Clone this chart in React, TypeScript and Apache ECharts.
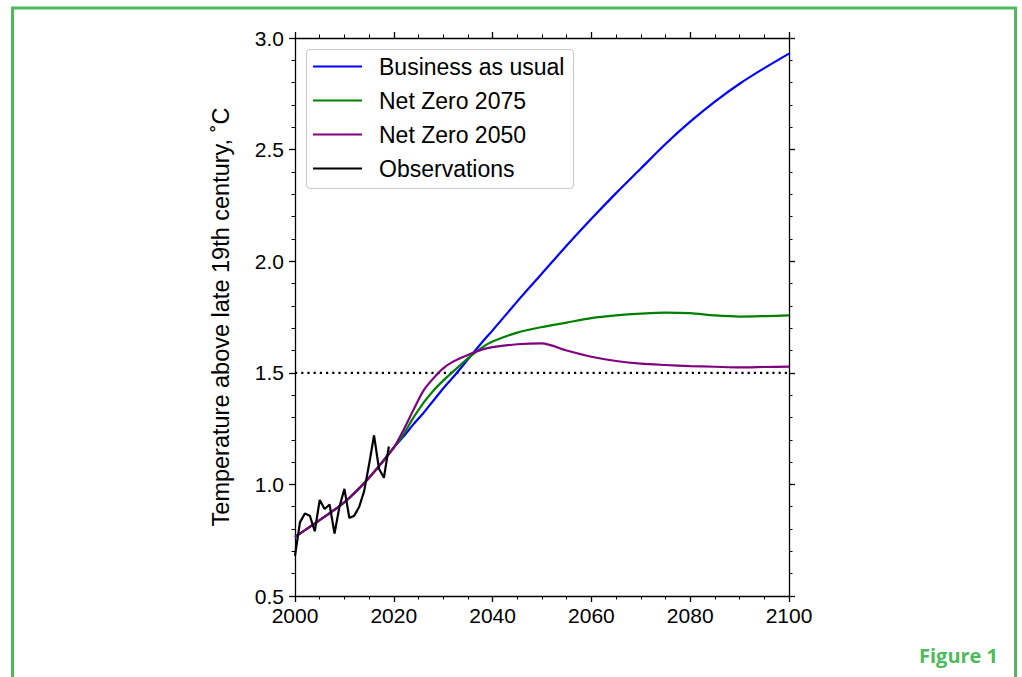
import React, { useEffect, useRef } from "react";
import * as echarts from "echarts";

const scenarioYears = [2000, 2005, 2010, 2015, 2020, 2022, 2024, 2026, 2028, 2030, 2032, 2035, 2038, 2040, 2045, 2050, 2055, 2060, 2065, 2070, 2075, 2080, 2085, 2090, 2095, 2100];
const businessAsUsual = [0.765, 0.84, 0.92, 1.03, 1.165, 1.215, 1.27, 1.32, 1.375, 1.43, 1.48, 1.56, 1.64, 1.69, 1.82, 1.945, 2.07, 2.19, 2.305, 2.415, 2.525, 2.625, 2.715, 2.795, 2.865, 2.93];
const netZero2075 = [0.765, 0.84, 0.92, 1.03, 1.165, 1.225, 1.30, 1.365, 1.42, 1.465, 1.505, 1.565, 1.615, 1.64, 1.68, 1.705, 1.725, 1.745, 1.757, 1.765, 1.77, 1.767, 1.757, 1.752, 1.754, 1.757];
const netZero2050 = [0.765, 0.84, 0.92, 1.03, 1.165, 1.245, 1.335, 1.42, 1.475, 1.52, 1.55, 1.58, 1.605, 1.615, 1.628, 1.632, 1.60, 1.572, 1.553, 1.541, 1.535, 1.53, 1.527, 1.524, 1.526, 1.528];

const obsYears = [2000, 2001, 2002, 2003, 2004, 2005, 2006, 2007, 2008, 2009, 2010, 2011, 2012, 2013, 2014, 2015, 2016, 2017, 2018, 2019];
const observations = [0.68, 0.83, 0.87, 0.86, 0.79, 0.93, 0.89, 0.91, 0.78, 0.90, 0.98, 0.85, 0.86, 0.90, 0.97, 1.09, 1.22, 1.07, 1.03, 1.17];

const thresholdYears = [2000, 2100];
const thresholdValues = [1.5, 1.5];

const xTicks = { min: 2000, max: 2100, interval: 20 };
const yTicks = { min: 0.5, max: 3.0, interval: 0.5 };

const seriesNames = ["Business as usual", "Net Zero 2075", "Net Zero 2050", "Observations"];
const yTitle = "Temperature above late 19th century, ˚C";
const figureLabel = "Figure 1";

const zip = (xs: number[], ys: number[]) => xs.map((x, i) => [x, ys[i]]);

const FONT = "Liberation Sans, Arial, sans-serif";
const GREEN = "#4dbb5b";

export default function App() {
  const ref = useRef<HTMLDivElement>(null);
  useEffect(() => {
    document.body.style.margin = "0";
    const chart = echarts.init(ref.current!, undefined, { renderer: "svg" });
    const axisCommon = {
      axisLine: { show: true, lineStyle: { color: "#000", width: 1.3 } },
      axisTick: { show: true, inside: false, length: 6, lineStyle: { color: "#000", width: 1.3 } },
      minorTick: { show: true, length: 3.5, lineStyle: { color: "#000", width: 1 } },
      splitLine: { show: false },
      minorSplitLine: { show: false },
    };
    const xLabel = { fontSize: 21, color: "#000", fontFamily: FONT, margin: 9, formatter: (v: number) => String(v) };
    const yLabel = { fontSize: 21, color: "#000", fontFamily: FONT, margin: 11, formatter: (v: number) => v.toFixed(1) };
    const lineSeries = (name: string, xs: number[], ys: number[], color: string, smooth: number | boolean) => ({
      name,
      type: "line",
      data: zip(xs, ys),
      xAxisIndex: 0,
      yAxisIndex: 0,
      showSymbol: false,
      symbol: "none",
      smooth,
      color,
      lineStyle: { color, width: 2.2 },
      z: 3,
    });
    chart.setOption({
      animation: false,
      backgroundColor: "#fff",
      grid: { left: 295, top: 38, width: 494, height: 558, containLabel: false },
      xAxis: [
        { type: "value", position: "bottom", ...xTicks, ...axisCommon, minorTick: { ...axisCommon.minorTick, splitNumber: 4 }, axisLabel: xLabel },
        { type: "value", position: "top", ...xTicks, ...axisCommon, minorTick: { ...axisCommon.minorTick, splitNumber: 4 }, axisLabel: { show: false } },
      ],
      yAxis: [
        {
          type: "value", position: "left", ...yTicks, ...axisCommon,
          minorTick: { ...axisCommon.minorTick, splitNumber: 5 }, axisLabel: yLabel,
          name: yTitle, nameLocation: "middle", nameGap: 62, nameRotate: 90,
          nameTextStyle: { fontSize: 23.5, color: "#000", fontFamily: FONT },
        },
        { type: "value", position: "right", ...yTicks, ...axisCommon, minorTick: { ...axisCommon.minorTick, splitNumber: 5 }, axisLabel: { show: false } },
      ],
      legend: {
        data: seriesNames,
        orient: "vertical",
        left: 306,
        top: 55,
        padding: [0, 0, 0, 7],
        itemWidth: 49,
        itemHeight: 2.2,
        icon: "rect",
        itemGap: 11,
        textStyle: { fontSize: 23, color: "#000", fontFamily: FONT, lineHeight: 22, padding: [0, 0, 0, 12] },
        z: 5,
      },
      graphic: [
        {
          type: "rect", z: 4, silent: true,
          shape: { x: 306.5, y: 49.5, width: 267, height: 139, r: 4 },
          style: { fill: "#fff", stroke: "#cccccc", lineWidth: 1.2 },
        },
        {
          type: "rect", z: 10, silent: true,
          shape: { x: 12.5, y: 8, width: 1003, height: 720 },
          style: { fill: "none", stroke: GREEN, lineWidth: 3 },
        },
        {
          type: "text", z: 10, left: 919, top: 645,
          style: { text: figureLabel, fill: GREEN, font: "bold 20px 'Open Sans', sans-serif" },
        },
      ],
      series: [
        lineSeries(seriesNames[0], scenarioYears, businessAsUsual, "#0000ff", 0.25),
        lineSeries(seriesNames[1], scenarioYears, netZero2075, "#008000", 0.25),
        lineSeries(seriesNames[2], scenarioYears, netZero2050, "#800080", 0.25),
        lineSeries(seriesNames[3], obsYears, observations, "#000000", false),
        {
          name: "1.5 threshold",
          type: "line",
          data: zip(thresholdYears, thresholdValues),
          showSymbol: false,
          symbol: "none",
          lineStyle: { color: "#000", width: 2.2, type: [2.2, 4] },
          z: 2,
        },
      ],
    });
    return () => chart.dispose();
  }, []);
  return <div ref={ref} style={{ width: 1022, height: 677 }} />;
}
